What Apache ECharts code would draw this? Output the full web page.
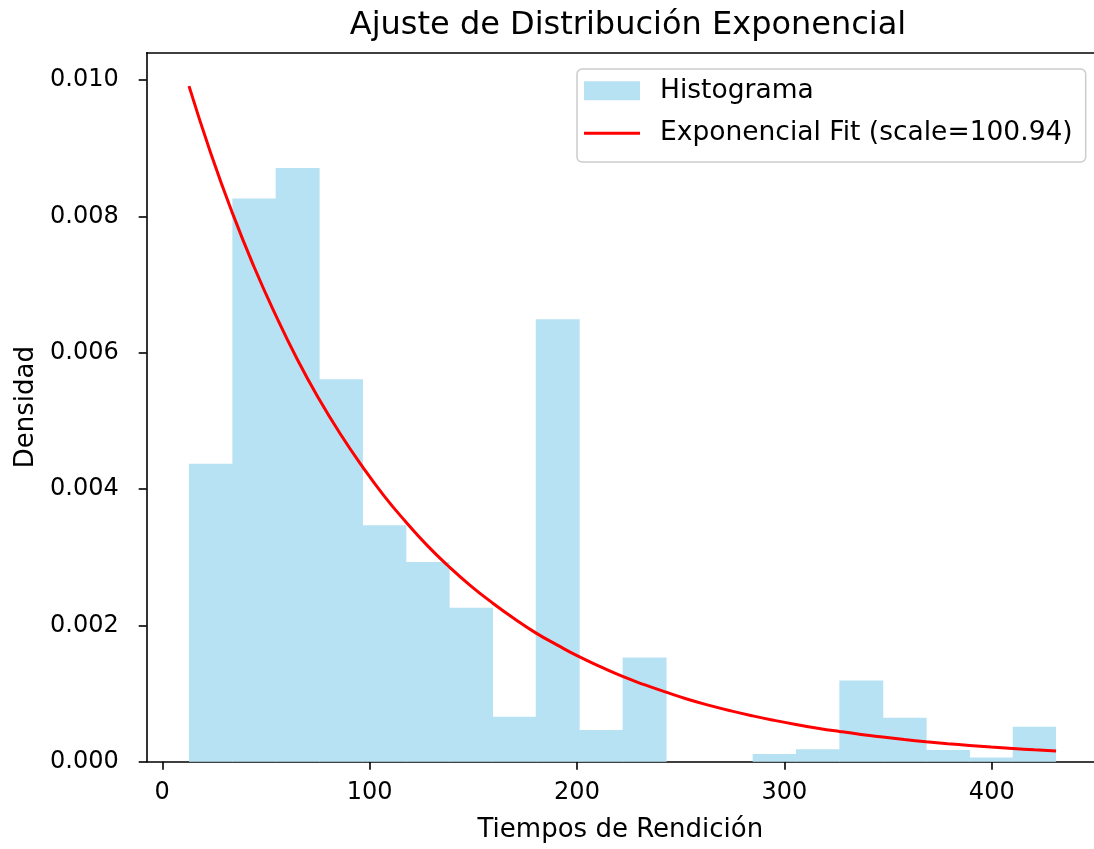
<!DOCTYPE html>
<html>
<head>
<meta charset="utf-8">
<script src="https://cdn.jsdelivr.net/npm/echarts@6/dist/echarts.min.js"></script>
<style>
  html, body { margin: 0; padding: 0; background: #fff; }
  #chart { width: 1094px; height: 849px; }
</style>
</head>
<body>
<div id="chart"></div>
<script>
// Histogram bin edges (21 edges -> 20 bins)
const binEdges = [12.9, 33.8, 54.7, 75.6, 96.5, 117.4, 138.3, 159.2, 180.1, 201.0, 222.0,
                  242.9, 263.8, 284.7, 305.6, 326.5, 347.4, 368.3, 389.2, 410.1, 431.0];
// Density of each bin
const density = [0.00437, 0.00826, 0.00871, 0.00561, 0.00347, 0.00293, 0.00226, 0.00066,
                 0.00649, 0.000465, 0.00153, 0, 0, 0.000113, 0.000182, 0.00119, 0.000645,
                 0.00017, 0.00006, 0.000513];
// Fitted curve points
const curveX = [12.9, 23.35, 33.8, 44.25, 54.7, 65.15, 75.6, 86.05, 96.5, 106.95, 117.4,
                127.85, 138.3, 148.75, 159.2, 169.65, 180.1, 190.55, 201.0, 211.5, 222.0,
                232.45, 242.9, 253.35, 263.8, 274.25, 284.7, 295.15, 305.6, 316.05, 326.5,
                336.95, 347.4, 357.85, 368.3, 378.75, 389.2, 399.65, 410.1, 420.55, 431.0];
const curveY = [0.00991, 0.00893, 0.00805, 0.00726, 0.00655, 0.00590, 0.00532, 0.00480,
                0.00433, 0.00390, 0.00352, 0.00317, 0.00286, 0.00258, 0.00233, 0.00210,
                0.00189, 0.00171, 0.00154, 0.00139, 0.00125, 0.00113, 0.00102, 0.000916,
                0.000826, 0.000745, 0.000672, 0.000606, 0.000546, 0.000492, 0.000444,
                0.000400, 0.000361, 0.000325, 0.000293, 0.000264, 0.000239, 0.000215,
                0.000194, 0.000175, 0.000158];
const xTicks = [0, 100, 200, 300, 400];
const yTicks = [0, 0.002, 0.004, 0.006, 0.008, 0.010];
const histName = 'Histograma';
const fitName = 'Exponencial Fit (scale=100.94)';

const barColor = '#b7e2f3';
const font = 'DejaVu Sans';

const histData = density.map((d, i) => [binEdges[i], binEdges[i + 1], d]);
const curveData = curveX.map((x, i) => [x, curveY[i]]);

const X_MIN = -7.5, X_MAX = 449.3, Y_MIN = 0, Y_MAX = 0.0104;

const chart = echarts.init(document.getElementById('chart'), null, { renderer: 'canvas' });
chart.setOption({
  animation: false,
  backgroundColor: '#fff',
  textStyle: { fontFamily: font },
  title: {
    text: 'Ajuste de Distribución Exponencial',
    left: 623, top: 5, textAlign: 'center',
    textStyle: { fontFamily: font, fontSize: 32, fontWeight: 'normal', color: '#000', lineHeight: 32 }
  },
  legend: {
    left: 577, top: 69,
    orient: 'vertical',
    padding: [6.8, 13, 13.6, 7],
    itemWidth: 56, itemHeight: 19, itemGap: 12.5,
    backgroundColor: 'rgba(255,255,255,0.8)',
    borderColor: '#cccccc', borderWidth: 1.5, borderRadius: 5,
    selectedMode: false,
    textStyle: { fontFamily: font, fontSize: 26.5, lineHeight: 30, color: '#000', padding: [0, 0, 0, 15] },
    data: [
      { name: histName, icon: 'rect', itemStyle: { color: barColor } },
      { name: fitName, icon: 'path://M0,0L0,0M0,8H56V11H0ZM56,19L56,19', itemStyle: { color: '#ff0000' } }
    ]
  },
  grid: { left: 146.7, top: 52.7, right: 0, bottom: 87.3, show: false, containLabel: false },
  xAxis: [
    {
      type: 'value', min: X_MIN, max: X_MAX,
      name: 'Tiempos de Rendición', nameLocation: 'middle', nameGap: 56,
      nameTextStyle: { fontFamily: font, fontSize: 26, color: '#000', lineHeight: 26 },
      axisLine: { show: true, onZero: false, lineStyle: { color: '#000', width: 1.6 } },
      axisTick: { show: true, length: 8, lineStyle: { color: '#000', width: 1.6 }, customValues: xTicks },
      axisLabel: { fontFamily: font, fontSize: 24, color: '#000', margin: 19, lineHeight: 24, customValues: xTicks },
      splitLine: { show: false }
    },
    {
      type: 'value', min: X_MIN, max: X_MAX, position: 'top',
      axisLine: { show: true, onZero: false, lineStyle: { color: '#000', width: 1.6 } },
      axisTick: { show: false }, axisLabel: { show: false }, splitLine: { show: false }
    }
  ],
  yAxis: {
    type: 'value', min: Y_MIN, max: Y_MAX,
    name: 'Densidad', nameLocation: 'middle', nameGap: 97,
    nameTextStyle: { fontFamily: font, fontSize: 26, color: '#000', lineHeight: 26 },
    axisLine: { show: true, onZero: false, lineStyle: { color: '#000', width: 1.6 } },
    axisTick: { show: true, length: 8, lineStyle: { color: '#000', width: 1.6 }, customValues: yTicks },
    axisLabel: { fontFamily: font, fontSize: 24, color: '#000', margin: 28, lineHeight: 24,
                 customValues: yTicks, formatter: v => v.toFixed(3) },
    splitLine: { show: false }
  },
  series: [
    {
      name: histName,
      type: 'custom',
      itemStyle: { color: barColor },
      encode: { x: [0, 1], y: 2 },
      data: histData,
      z: 1,
      renderItem: function (params, api) {
        const x0 = api.value(0), x1 = api.value(1), h = api.value(2);
        const p0 = api.coord([x0, h]);
        const p1 = api.coord([x1, 0]);
        const overlap = params.dataIndex < histData.length - 1 ? 0.6 : 0;
        return {
          type: 'rect',
          shape: { x: p0[0], y: p0[1], width: p1[0] - p0[0] + overlap, height: p1[1] - p0[1] },
          style: { fill: barColor }
        };
      }
    },
    {
      name: fitName,
      type: 'line',
      data: curveData,
      smooth: true,
      symbol: 'none',
      z: 3,
      lineStyle: { color: '#ff0000', width: 3 },
      itemStyle: { color: '#ff0000' }
    }
  ]
});
</script>
</body>
</html>
